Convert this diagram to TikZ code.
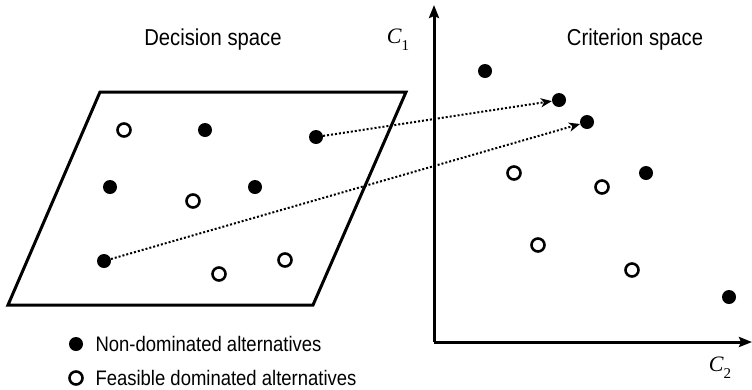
\documentclass[tikz,border=0pt]{standalone}
\usepackage{fontspec}
\setmainfont{Liberation Sans}[FakeStretch=0.88]
\newfontfamily\critfont{Liberation Serif}
\usepackage{tikz}
\usetikzlibrary{arrows.meta}
\tikzset{
  nondom/.style={
    circle, fill=black, inner sep=0pt,
    minimum size=14pt
  },
  feasible/.style={
    circle, draw=black, fill=white, line width=2.6pt,
    inner sep=0pt, minimum size=13pt
  },
  space title/.style={
    font=\fontsize{23}{27}\selectfont
  },
  legend text/.style={
    anchor=west, font=\fontsize{21}{25}\selectfont
  },
  crit label/.style={
    font=\critfont\fontsize{22}{26}\selectfont
  },
  mapto/.style={
    -{Stealth[length=11pt,width=9pt,inset=3pt]},
    line width=2pt, dash pattern=on 2pt off 2pt
  },
  axis/.style={
    -{Stealth[length=13pt,width=10pt,inset=2pt]},
    line width=3pt
  }
}
\newcommand{\critsym}[1]{\textit{C}\raisebox{-0.3em}{\fontsize{15}{17}\selectfont #1}}

\begin{document}
\begin{tikzpicture}[x=1pt, y=-1pt]
  \useasboundingbox (0,0) rectangle (752,389);

  % Titles
  \node[space title] (tdec) at (213, 40) {Decision space};
  \node[space title] (tcrit) at (635, 40) {Criterion space};

  % Decision space
  \draw[line width=3pt, line join=miter] (100, 92) -- (406, 92) -- (313, 305) -- (8, 305) -- cycle;
  \node[feasible] (d1) at (124, 130) {};
  \node[nondom]   (d2) at (205, 130) {};
  \node[nondom]   (d3) at (316, 137) {};
  \node[nondom]   (d4) at (110, 187) {};
  \node[feasible] (d5) at (193, 201) {};
  \node[nondom]   (d6) at (255, 187) {};
  \node[nondom]   (d7) at (104, 261) {};
  \node[feasible] (d8) at (219, 274) {};
  \node[feasible] (d9) at (285, 260) {};

  % Criterion space axes
  \coordinate (orig) at (434, 342);
  \coordinate (c1end) at (434, 5);
  \coordinate (c2end) at (752, 342);
  \draw[axis] (orig) -- (c1end);
  \draw[axis] (orig) -- (c2end);
  \node[crit label] (lc1) at (398, 40) {\critsym{1}};
  \node[crit label] (lc2) at (720, 368) {\critsym{2}};

  % Criterion space points
  \node[nondom]   (c1) at (485, 71) {};
  \node[nondom]   (c2) at (559, 100) {};
  \node[nondom]   (c3) at (587, 122) {};
  \node[feasible] (c4) at (514, 173) {};
  \node[feasible] (c5) at (602, 187) {};
  \node[nondom]   (c6) at (646, 173) {};
  \node[feasible] (c7) at (538, 245) {};
  \node[feasible] (c8) at (632, 270) {};
  \node[nondom]   (c9) at (729, 297) {};

  % Mapping
  \draw[mapto] (d3) -- (c2);
  \draw[mapto] (d7) -- (c3);

  % Legend
  \node[nondom]   (lg1) at (76, 344) {};
  \node[legend text] (lgt1) at (92, 344) {Non-dominated alternatives};
  \node[feasible] (lg2) at (76, 378) {};
  \node[legend text] (lgt2) at (92, 378) {Feasible dominated alternatives};
\end{tikzpicture}
\end{document}
